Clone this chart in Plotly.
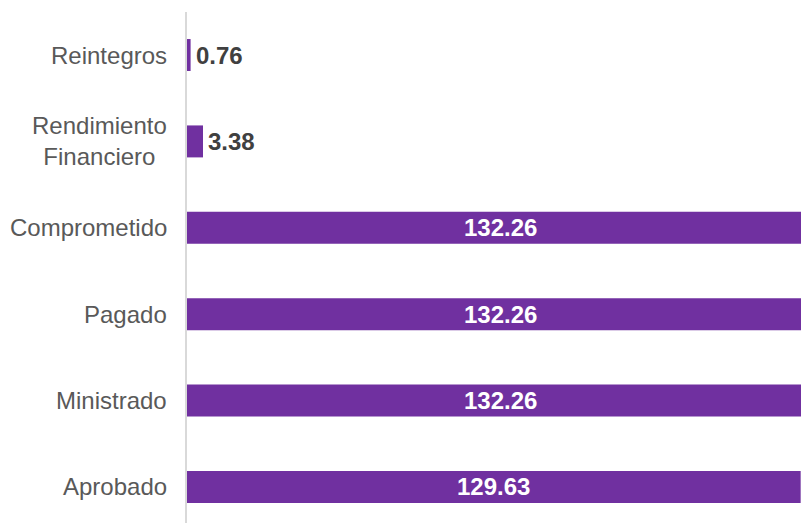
import plotly.graph_objects as go

categories = ["Aprobado", "Ministrado", "Pagado", "Comprometido", "Rendimiento Financiero", "Reintegros"]
labels = ["Aprobado", "Ministrado", "Pagado", "Comprometido", "Rendimiento<br>Financiero", "Reintegros"]
values = [129.63, 132.26, 132.26, 132.26, 3.38, 0.76]

PURPLE = "#7030A0"
FONT = "Liberation Sans, Arial, sans-serif"
FS = 24

fig = go.Figure(go.Bar(
    y=categories, x=values, orientation="h",
    marker=dict(color=PURPLE, line=dict(width=0)),
    width=0.37, hoverinfo="skip",
))

ann = []
for cat, lab, v in zip(categories, labels, values):
    ann.append(dict(x=0, xref="paper", y=cat, yref="y", text=lab, showarrow=False,
                    xanchor="right", align="center", xshift=-18,
                    font=dict(family=FONT, size=FS, color="#595959")))
    if v > 20:
        ann.append(dict(x=v / 2, xref="x", y=cat, yref="y", text=f"<b>{v:.2f}</b>",
                        showarrow=False, xanchor="center",
                        font=dict(family=FONT, size=FS, color="white")))
    else:
        ann.append(dict(x=v, xref="x", y=cat, yref="y", text=f"<b>{v:.2f}</b>",
                        showarrow=False, xanchor="left", xshift=3,
                        font=dict(family=FONT, size=FS, color="#404040")))

fig.update_layout(
    width=801, height=523,
    margin=dict(l=187, r=0, t=12, b=0),
    paper_bgcolor="white", plot_bgcolor="white",
    showlegend=False,
    annotations=ann,
    xaxis=dict(range=[0, 129.7], showgrid=False, zeroline=False, showticklabels=False,
               showline=False, fixedrange=True),
    yaxis=dict(categoryorder="array", categoryarray=categories, range=[-0.417, 5.498],
               showgrid=False, zeroline=False, showticklabels=False,
               showline=True, linecolor="#d9d9d9", linewidth=2, fixedrange=True),
)

fig.write_html("out.html", config={"displayModeBar": False},
               post_script="document.body.style.margin='0';document.body.style.overflow='hidden';")
